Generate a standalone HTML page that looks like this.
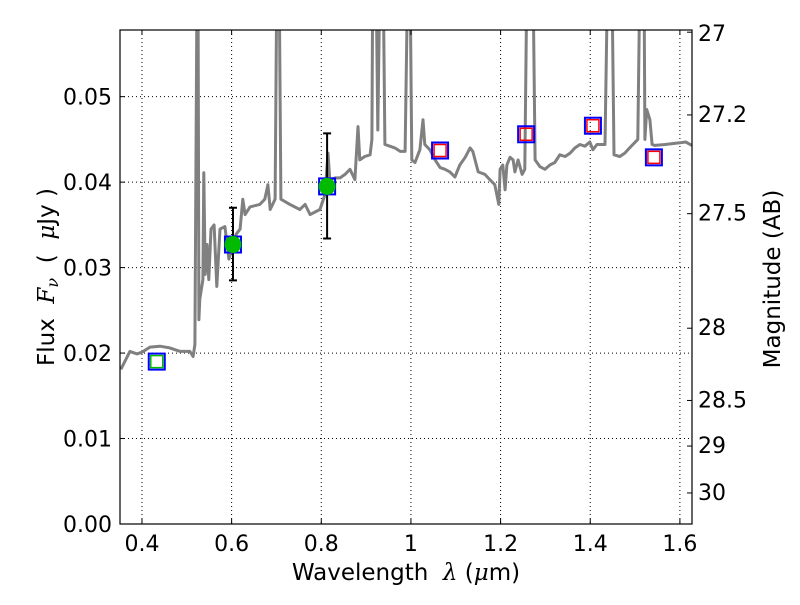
<!DOCTYPE html>
<html><head><meta charset="utf-8"><style>
body{margin:0;background:#fff;}
svg text{font-family:"DejaVu Sans","Liberation Sans",sans-serif;}
</style></head><body>
<svg id="chart" width="800" height="600" viewBox="0 0 800 600" xmlns="http://www.w3.org/2000/svg">
<defs><clipPath id="pc"><rect x="120" y="30" width="572" height="494"/></clipPath></defs>
<rect width="800" height="600" fill="#fff"/>
<g id="grid"></g>
<g id="marks" clip-path="url(#pc)"></g>
<rect x="120" y="30" width="572" height="494" fill="none" stroke="#000" stroke-width="1.2"/>
<g id="axes"></g>
<text x="406" y="580" font-size="23" text-anchor="middle" xml:space="preserve">Wavelength  <tspan font-style="italic" font-family="DejaVu Serif, serif">λ</tspan> (<tspan font-style="italic" font-family="DejaVu Serif, serif">μ</tspan>m)</text>
<text transform="translate(54,277) rotate(-90)" font-size="23" text-anchor="middle" xml:space="preserve">Flux  <tspan font-style="italic" font-family="DejaVu Serif, serif">F<tspan font-size="16" dy="4">ν</tspan></tspan><tspan dy="-4">  (  </tspan><tspan font-style="italic" font-family="DejaVu Serif, serif">μ</tspan>Jy )</text>
<text transform="translate(780,279) rotate(-90)" font-size="23" text-anchor="middle">Magnitude (AB)</text>
</svg>
<script>
const specWave=[0.353,0.373,0.389,0.400,0.418,0.440,0.462,0.485,0.507,0.514,0.518,0.523,0.525,0.527,0.529,0.536,0.538,0.541,0.545,0.549,0.554,0.561,0.567,0.574,0.585,0.594,0.603,0.610,0.619,0.625,0.630,0.641,0.663,0.674,0.681,0.686,0.697,0.701,0.706,0.710,0.730,0.752,0.764,0.775,0.797,0.808,0.815,0.819,0.831,0.842,0.853,0.864,0.875,0.882,0.886,0.897,0.909,0.913,0.915,0.922,0.926,0.931,0.938,0.942,0.953,0.964,0.976,0.987,0.993,0.998,1.002,1.009,1.020,1.027,1.031,1.042,1.054,1.065,1.076,1.087,1.098,1.109,1.121,1.132,1.138,1.150,1.165,1.176,1.187,1.196,1.199,1.205,1.210,1.214,1.221,1.228,1.232,1.239,1.248,1.254,1.259,1.272,1.277,1.288,1.299,1.310,1.321,1.332,1.344,1.355,1.366,1.377,1.388,1.399,1.406,1.415,1.433,1.439,1.448,1.453,1.466,1.477,1.484,1.506,1.511,1.520,1.522,1.526,1.533,1.538,1.544,1.567,1.600,1.613,1.627];
const specFlux=[0.0181,0.0202,0.0199,0.0201,0.0207,0.0208,0.0206,0.0202,0.0202,0.0196,0.0210,0.065,0.065,0.0239,0.0263,0.0286,0.0411,0.0292,0.0327,0.0286,0.0345,0.0350,0.0278,0.0345,0.0348,0.0310,0.0327,0.0339,0.0345,0.0380,0.0362,0.0371,0.0374,0.0380,0.0397,0.0368,0.0380,0.065,0.065,0.0380,0.0374,0.0368,0.0374,0.0362,0.0368,0.0385,0.0434,0.0403,0.0405,0.0405,0.0409,0.0415,0.0403,0.0465,0.0426,0.0430,0.0432,0.0450,0.065,0.065,0.0461,0.065,0.065,0.0444,0.0442,0.0440,0.0436,0.0436,0.065,0.065,0.0426,0.0423,0.0438,0.0473,0.0444,0.0438,0.0426,0.0417,0.0415,0.0412,0.0406,0.0420,0.0429,0.0440,0.0436,0.0412,0.0409,0.0403,0.0397,0.0374,0.0415,0.0420,0.0391,0.0420,0.0429,0.0426,0.0412,0.0426,0.0409,0.0415,0.065,0.065,0.0426,0.0418,0.0415,0.0420,0.0423,0.0432,0.0430,0.0434,0.0440,0.0444,0.0442,0.0447,0.0438,0.0444,0.0444,0.065,0.065,0.0432,0.0430,0.0434,0.0438,0.0450,0.065,0.065,0.0450,0.0485,0.0473,0.0444,0.0443,0.0444,0.0446,0.0447,0.0443];
const modelWave=[0.433,0.603,0.813,1.065,1.257,1.406,1.542];
const modelFlux=[0.0190,0.0327,0.0395,0.0437,0.0456,0.0466,0.0429];
const obsWave=[0.603,0.813];
const obsFlux=[0.0327,0.0395];
const obsErrLo=[0.0285,0.0334];
const obsErrHi=[0.0370,0.0457];
const obsKind=['green','filled','filled','red','red','red','red'];
const xTicks=[0.4,0.6,0.8,1.0,1.2,1.4,1.6];
const xTickLabels=['0.4','0.6','0.8','1','1.2','1.4','1.6'];
const yTicks=[0,0.01,0.02,0.03,0.04,0.05];
const yTickLabels=['0.00','0.01','0.02','0.03','0.04','0.05'];
const magTicks=[27,27.2,27.5,28,28.5,29,30];
const magTickLabels=['27','27.2','27.5','28','28.5','29','30'];

const X0=120,X1=692,Y0=524,Y1=30,xmin=0.351,xmax=1.627,ymin=0,ymax=0.0578;
const sx=v=>X0+(v-xmin)/(xmax-xmin)*(X1-X0);
const sy=v=>Y0-(v-ymin)/(ymax-ymin)*(Y0-Y1);
const NS='http://www.w3.org/2000/svg';
function mk(tag,attrs,parent){const e=document.createElementNS(NS,tag);for(const k in attrs)e.setAttribute(k,attrs[k]);parent.appendChild(e);return e;}
const grid=document.getElementById('grid'),marks=document.getElementById('marks'),axes=document.getElementById('axes');

xTicks.forEach((t,i)=>{
  const x=sx(t);
  const g=mk('line',{x1:x,x2:x,y1:Y1,y2:Y0,stroke:'#000','stroke-width':1,'stroke-dasharray':'1,3'},grid);
  
  
  const tk=mk('path',{d:`M${x},${Y0}v-5M${x},${Y1}v5`,stroke:'#000','stroke-width':1},axes);
  
  
  const lb=mk('text',{x:x,y:551,'font-size':22,'text-anchor':'middle'},axes);
  lb.textContent=xTickLabels[i];
  
  
});
yTicks.forEach((t,i)=>{
  const y=sy(t);
  if(t>0){const g=mk('line',{x1:X0,x2:X1,y1:y,y2:y,stroke:'#000','stroke-width':1,'stroke-dasharray':'1,3'},grid);
  
  }
  const tk=mk('path',{d:`M${X0},${y}h5`,stroke:'#000','stroke-width':1},axes);
  
  
  const lb=mk('text',{x:112,y:y+8,'font-size':22,'text-anchor':'end'},axes);
  lb.textContent=yTickLabels[i];
  
  
});
magTicks.forEach((m,i)=>{
  const y=sy(Math.pow(10,(23.9-m)/2.5));
  const tk=mk('path',{d:`M${X1},${y}h-5`,stroke:'#000','stroke-width':1},axes);
  
  
  const lb=mk('text',{x:698,y:(i===0?y+9:y+7),'font-size':22},axes);
  lb.textContent=magTickLabels[i];
  
  
});

const d=specWave.map((w,i)=>(i?'L':'M')+sx(w).toFixed(1)+','+sy(specFlux[i]).toFixed(1)).join('');
const sp=mk('path',{d:d,fill:'none',stroke:'#808080','stroke-width':3,'stroke-linejoin':'round'},marks);



obsWave.forEach((w,i)=>{
  const x=sx(w),a=sy(obsErrHi[i]),b=sy(obsErrLo[i]);
  const e=mk('path',{d:`M${x},${a}V${b}M${x-4},${a}h8M${x-4},${b}h8`,stroke:'#000','stroke-width':2},marks);
  
  
});
modelWave.forEach((w,i)=>{
  const x=sx(w),y=sy(modelFlux[i]);
  const r=mk('rect',{x:x-8,y:y-8,width:16,height:16,fill:'none',stroke:'#0000ff','stroke-width':2},marks);
  
  
  if(obsKind[i]==='red'||obsKind[i]==='green'){
    const s=mk('rect',{x:x-6,y:y-6,width:12,height:12,fill:'none',stroke:obsKind[i]==='red'?'#ff0000':'#00bb00','stroke-width':1.5},marks);
    
    
  }
});
obsWave.forEach((w,i)=>{
  const c=mk('circle',{cx:sx(w),cy:sy(obsFlux[i]),r:8.5,fill:'#00bb00'},marks);
  
  
});
</script>
</body></html>
